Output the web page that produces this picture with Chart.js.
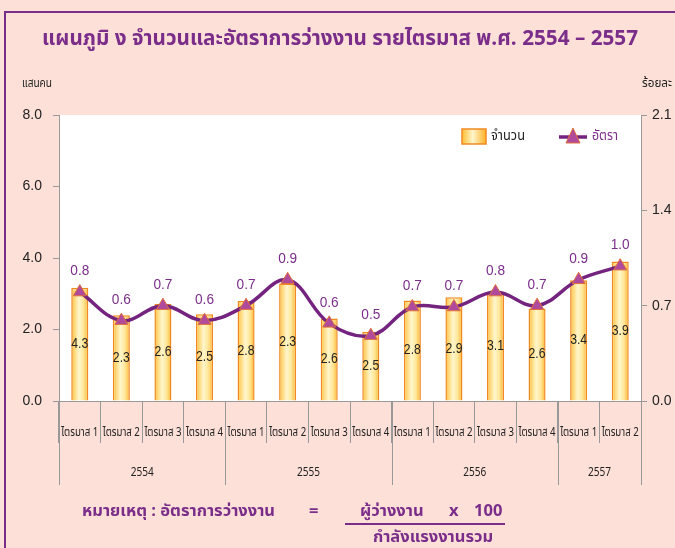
<!DOCTYPE html>
<html lang="th">
<head>
<meta charset="utf-8">
<title>แผนภูมิ ง</title>
<script src="https://cdn.jsdelivr.net/npm/chart.js@4.4.1/dist/chart.umd.min.js"></script>
<style>
  html, body { margin: 0; padding: 0; background: #fde0d8; overflow: hidden; }
  #wrap { position: relative; width: 675px; height: 548px; }
  #frame { position: absolute; left: 4px; top: 11px; width: 700px; height: 600px;
           border: 2px solid #7b2d8a; box-sizing: border-box; }
  canvas { position: absolute; left: 0; top: 0; }
</style>
</head>
<body>
<div id="wrap">
  <div id="frame"></div>
  <canvas id="chart" width="675" height="548"></canvas>
</div>
<script>
// ข้อมูลกราฟ
const quarters = ['ไตรมาส 1', 'ไตรมาส 2', 'ไตรมาส 3', 'ไตรมาส 4',
                  'ไตรมาส 1', 'ไตรมาส 2', 'ไตรมาส 3', 'ไตรมาส 4',
                  'ไตรมาส 1', 'ไตรมาส 2', 'ไตรมาส 3', 'ไตรมาส 4',
                  'ไตรมาส 1', 'ไตรมาส 2']
const years = ['2554', '2555', '2556', '2557']
const quartersPerYear = [4, 4, 4, 2]

// ความสูงแท่ง (แสนคน) ตามที่ปรากฏในภาพ
const unemployed = [3.17, 2.40, 2.71, 2.43, 2.80, 3.29, 2.31, 1.94, 2.81, 2.90, 3.06, 2.59, 3.38, 3.90]
// ตัวเลขที่พิมพ์บนแท่ง
const unemployedLabels = ['4.3', '2.3', '2.6', '2.5', '2.8', '2.3', '2.6', '2.5', '2.8', '2.9', '3.1', '2.6', '3.4', '3.9']
// อัตราการว่างงาน (ร้อยละ)
const rate = [0.80, 0.59, 0.70, 0.59, 0.70, 0.89, 0.57, 0.48, 0.69, 0.69, 0.80, 0.70, 0.89, 0.99]

const leftTicks = [0, 2, 4, 6, 8]
const rightTicks = [0, 0.7, 1.4, 2.1]

const PURPLE = '#7b2d8a'
const LINE_PURPLE = '#74237f'
const THAI = "'Noto Sans Thai', Tahoma, 'Noto Sans', sans-serif"
const NARROW = "'Liberation Sans Narrow', 'Liberation Sans', sans-serif"

function barGradient(c) {
  const chart = c.chart
  const area = chart.chartArea
  if (!area || c.dataIndex === undefined) return '#ffd870'
  const x = chart.scales.x.getPixelForValue(c.dataIndex)
  const g = chart.ctx.createLinearGradient(x - 9, 0, x + 9, 0)
  g.addColorStop(0, '#ffbe32')
  g.addColorStop(0.45, '#fff6cc')
  g.addColorStop(0.7, '#ffe79a')
  g.addColorStop(1, '#ffb024')
  return g
}

// พื้นหลังพื้นที่กราฟสีขาว
const plotBg = {
  id: 'plotBg',
  beforeDraw(chart) {
    const { ctx, chartArea: a } = chart
    ctx.save()
    ctx.fillStyle = '#ffffff'
    ctx.fillRect(a.left, a.top, a.right - a.left, a.bottom - a.top)
    ctx.restore()
  }
}

// ข้อความ หัวเรื่อง หน่วย ปี และหมายเหตุ
const decorations = {
  id: 'decorations',
  afterDraw(chart) {
    const { ctx, chartArea: a } = chart
    const x = chart.scales.x
    ctx.save()

    // หัวเรื่อง
    ctx.fillStyle = PURPLE
    ctx.textAlign = 'center'
    ctx.textBaseline = 'middle'
    ctx.font = `bold 21px ${THAI}`
    ctx.fillText('แผนภูมิ ง จำนวนและอัตราการว่างงาน รายไตรมาส พ.ศ. 2554 – 2557', 340, 41, 596)

    // หน่วย
    ctx.fillStyle = '#222'
    ctx.font = `12px ${THAI}`
    ctx.textAlign = 'left'
    ctx.fillText('แสนคน', 22, 85, 30)
    ctx.textAlign = 'right'
    ctx.fillText('ร้อยละ', 672, 85, 30)

    // ป้ายไตรมาส
    ctx.font = `13px ${THAI}`
    ctx.textAlign = 'center'
    ctx.fillStyle = '#222'
    quarters.forEach((q, i) => {
      ctx.fillText(q, x.getPixelForValue(i), a.bottom + 32, 37)
    })

    // ปีและเส้นแบ่งกลุ่ม
    const step = (a.right - a.left) / quarters.length
    ctx.strokeStyle = '#999'
    ctx.lineWidth = 1
    ctx.font = `13px ${THAI}`
    let start = 0
    years.forEach((y, k) => {
      const n = quartersPerYear[k]
      const left = x.getPixelForValue(start) - step / 2
      const right = x.getPixelForValue(start + n - 1) + step / 2
      ctx.beginPath()
      ctx.moveTo(Math.round(left) + 0.5, a.bottom)
      ctx.lineTo(Math.round(left) + 0.5, a.bottom + 84)
      ctx.moveTo(Math.round(right) + 0.5, a.bottom)
      ctx.lineTo(Math.round(right) + 0.5, a.bottom + 84)
      ctx.stroke()
      ctx.fillText(y, (left + right) / 2, a.bottom + 72, 23)
      start += n
    })

    // หมายเหตุ
    ctx.fillStyle = PURPLE
    ctx.font = `bold 16.5px ${THAI}`
    ctx.textAlign = 'left'
    ctx.fillText('หมายเหตุ : อัตราการว่างงาน', 82, 513)
    ctx.fillText('=', 309, 513)
    ctx.fillText('ผู้ว่างงาน', 360, 513)
    ctx.fillText('x', 449, 513)
    ctx.fillText('100', 474, 513)
    ctx.textAlign = 'center'
    ctx.fillText('กำลังแรงงานรวม', 433, 539)
    ctx.strokeStyle = PURPLE
    ctx.lineWidth = 2
    ctx.beginPath()
    ctx.moveTo(345, 524)
    ctx.lineTo(505, 524)
    ctx.stroke()

    // คำอธิบายสัญลักษณ์
    ctx.lineWidth = 1.5
    const lg = ctx.createLinearGradient(462, 0, 486, 0)
    lg.addColorStop(0, '#ffbe32')
    lg.addColorStop(0.45, '#fff6cc')
    lg.addColorStop(1, '#ffb024')
    ctx.fillStyle = lg
    ctx.fillRect(462, 129, 24, 15)
    ctx.strokeStyle = '#f08a24'
    ctx.strokeRect(462, 129, 24, 15)
    ctx.fillStyle = '#222'
    ctx.font = `14px ${THAI}`
    ctx.textAlign = 'left'
    ctx.fillText('จำนวน', 491, 137, 34)

    ctx.strokeStyle = LINE_PURPLE
    ctx.lineWidth = 3.5
    ctx.beginPath()
    ctx.moveTo(559, 137)
    ctx.lineTo(587, 137)
    ctx.stroke()
    ctx.fillStyle = '#b04a9c'
    ctx.strokeStyle = '#e0703a'
    ctx.lineWidth = 1
    ctx.beginPath()
    ctx.moveTo(573, 128)
    ctx.lineTo(580, 143)
    ctx.lineTo(566, 143)
    ctx.closePath()
    ctx.fill()
    ctx.stroke()
    ctx.fillStyle = PURPLE
    ctx.fillText('อัตรา', 592, 137, 26)

    ctx.restore()
  }
}

// ตัวเลขบนแท่งและบนเส้น
const valueLabels = {
  id: 'valueLabels',
  afterDatasetsDraw(chart) {
    const ctx = chart.ctx
    ctx.save()
    ctx.textAlign = 'center'
    ctx.textBaseline = 'middle'
    const bars = chart.getDatasetMeta(0).data
    ctx.font = `14px ${NARROW}`
    ctx.fillStyle = '#222'
    bars.forEach((b, i) => {
      ctx.fillText(unemployedLabels[i], b.x, b.y + (b.base - b.y) * 0.5, 17)
    })
    const pts = chart.getDatasetMeta(1).data
    ctx.font = `15px ${NARROW}`
    ctx.fillStyle = PURPLE
    pts.forEach((p, i) => {
      ctx.fillText(rate[i].toFixed(1), p.x, p.y - 21, 19)
    })
    ctx.restore()
  }
}

new Chart(document.getElementById('chart'), {
  data: {
    labels: quarters,
    datasets: [
      {
        type: 'bar',
        label: 'จำนวน',
        data: unemployed,
        yAxisID: 'y',
        backgroundColor: barGradient,
        borderColor: '#f08a24',
        borderWidth: 1.5,
        categoryPercentage: 1,
        barPercentage: 0.41,
        order: 2
      },
      {
        type: 'line',
        label: 'อัตรา',
        data: rate,
        yAxisID: 'y1',
        borderColor: LINE_PURPLE,
        borderWidth: 3.5,
        tension: 0.38,
        pointStyle: 'triangle',
        pointRadius: 7.5,
        pointBackgroundColor: '#b04a9c',
        pointBorderColor: '#e0703a',
        pointBorderWidth: 1,
        order: 1
      }
    ]
  },
  options: {
    responsive: false,
    animation: false,
    events: [],
    layout: { padding: { left: 0, right: 0, top: 115, bottom: 62 } },
    plugins: {
      legend: { display: false },
      tooltip: { enabled: false }
    },
    scales: {
      x: {
        offset: true,
        afterFit: s => { s.height = 85 },
        grid: { offset: true, drawOnChartArea: false, tickLength: 42, color: '#999' },
        border: { color: '#999' },
        ticks: { display: false }
      },
      y: {
        position: 'left',
        min: 0,
        max: 8,
        afterFit: s => { s.width = 59 },
        afterBuildTicks: s => { s.ticks = leftTicks.map(v => ({ value: v })) },
        grid: { drawOnChartArea: false, tickLength: 6, color: '#999' },
        border: { color: '#999' },
        ticks: {
          padding: 11,
          color: '#222',
          font: { family: NARROW, size: 14 },
          callback: v => v.toFixed(1)
        }
      },
      y1: {
        position: 'right',
        min: 0,
        max: 2.1,
        afterFit: s => { s.width = 34 },
        afterBuildTicks: s => { s.ticks = rightTicks.map(v => ({ value: v })) },
        grid: { drawOnChartArea: false, tickLength: 6, color: '#999' },
        border: { color: '#999' },
        ticks: {
          padding: 5,
          color: '#222',
          font: { family: NARROW, size: 14 },
          callback: v => v.toFixed(1)
        }
      }
    }
  },
  plugins: [plotBg, valueLabels, decorations]
})
</script>
</body>
</html>
